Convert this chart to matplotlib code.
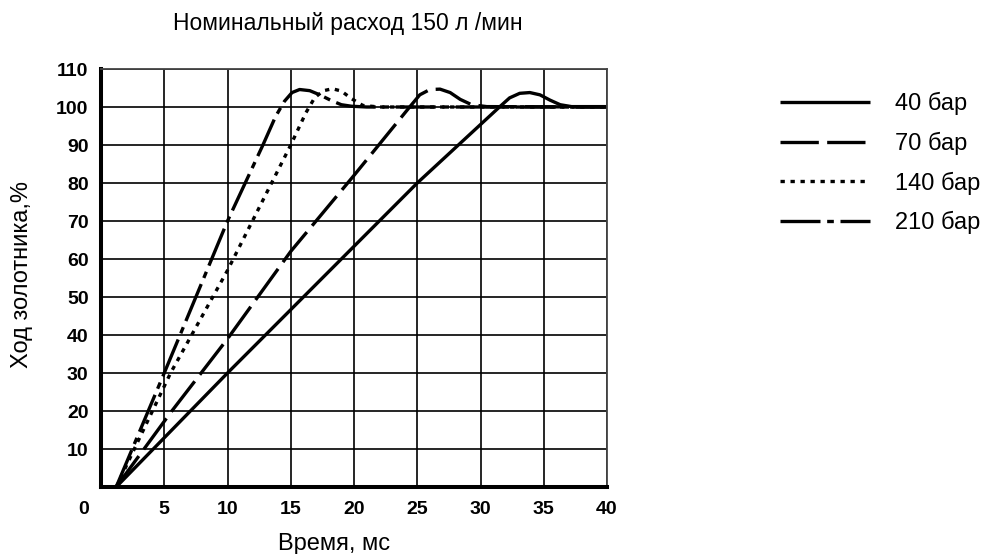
import matplotlib
matplotlib.use("Agg")
import matplotlib.pyplot as plt

plt.rcParams['font.family'] = ['Liberation Sans', 'DejaVu Sans']

title = "Номинальный расход 150 л /мин"
xlabel = "Время, мс"
ylabel = "Ход золотника,%"

labels = ["40 бар", "70 бар", "140 бар", "210 бар"]

x40 = [1.2, 10, 25, 31.5, 32.3, 33.1, 33.9, 34.7, 35.5, 36.3, 37.2, 40]
y40 = [0, 30, 80, 100, 102.4, 103.6, 103.8, 103.2, 101.8, 100.6, 100.1, 100.1]

x70 = [1.2, 5.6, 10, 15, 20, 24.4, 25.2, 26.0, 26.8, 27.6, 28.4, 29.3, 30.5, 40]
y70 = [0, 20, 39, 62, 82, 100, 103.2, 104.6, 104.7, 103.8, 102.0, 100.6, 100.1, 100]

x140 = [1.2, 5.5, 10, 15, 16.2, 16.9, 17.6, 18.3, 19.0, 19.8, 20.7, 22, 40]
y140 = [0, 30, 57, 90, 98.5, 102.5, 104.3, 104.8, 104.2, 102.2, 100.4, 100, 100]

x210 = [1.2, 5, 10, 12.8, 13.8, 14.5, 15.1, 15.7, 16.5, 17.3, 18.2, 19.0, 19.8, 21, 40]
y210 = [0, 30, 70, 90, 97.5, 101.5, 103.8, 104.6, 104.3, 103.2, 101.7, 100.6, 100.2, 100, 100]

xticks = [5, 10, 15, 20, 25, 30, 35, 40]
yticks = [10, 20, 30, 40, 50, 60, 70, 80, 90, 100, 110]

W, H = 986, 554
fig = plt.figure(figsize=(W / 100, H / 100), dpi=100)
ax = fig.add_axes([101 / W, 1 - 487 / H, 506 / W, (487 - 69) / H])

lw = 2.4
ax.plot(x40, y40, color='black', lw=lw, solid_capstyle='butt', label=labels[0])
ax.plot(x70, y70, color='black', lw=lw, dashes=(11.5, 2.5), dash_capstyle='butt', label=labels[1])
ax.plot(x140, y140, color='black', lw=lw, dashes=(1.3, 1.7), dash_capstyle='butt', label=labels[2])
ax.plot(x210, y210, color='black', lw=lw, dashes=(12, 2, 2, 2), dash_capstyle='butt', label=labels[3])

ax.set_xlim(0, 40)
ax.set_ylim(0, 110)
ax.set_xticks(xticks)
ax.set_yticks(yticks)
ax.grid(True, color='black', lw=1.2)
ax.set_axisbelow(True)
ax.tick_params(length=0)
ax.tick_params(axis='x', pad=10)
ax.tick_params(axis='y', pad=9)
for t in ax.get_xticklabels() + ax.get_yticklabels():
    t.set_fontweight('bold')
    t.set_fontsize(14)

fig.text(84 / W, 1 - 510 / H, '0', ha='center', va='center', fontsize=14, fontweight='bold')

for s in ['left', 'bottom']:
    ax.spines[s].set_linewidth(2.9)
for s in ['top', 'right']:
    ax.spines[s].set_linewidth(1.3)
    ax.spines[s].set_color('#444444')

fig.text(334 / W, 1 - 550 / H, xlabel, fontsize=17, ha='center', va='baseline')
fig.text(22 / W, 1 - 275 / H, ylabel, fontsize=17, ha='center', va='center', rotation=90)
fig.text(348 / W, 1 - 30 / H, title, fontsize=16.5, ha='center', va='baseline')

leg = ax.legend(loc='upper left', bbox_to_anchor=(780 / W, 1 - 92 / H), bbox_transform=fig.transFigure,
                frameon=False, fontsize=17, handlelength=3.8, handletextpad=1.05,
                labelspacing=0.7, borderpad=0, borderaxespad=0)

fig.savefig('out.png', dpi=100)
